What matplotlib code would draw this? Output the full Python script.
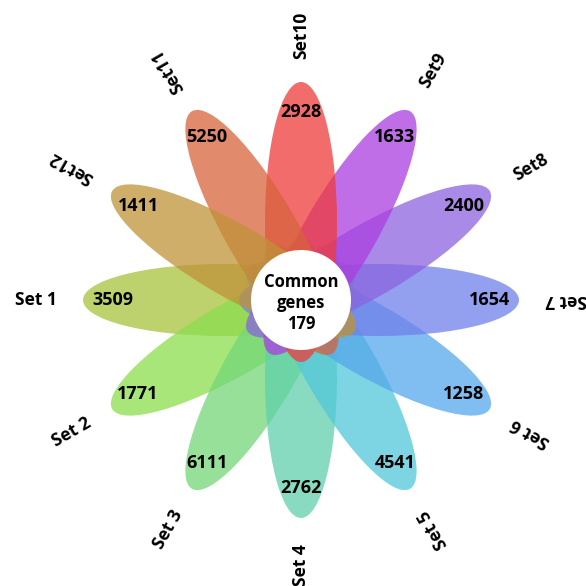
import numpy as np
import matplotlib.pyplot as plt
from matplotlib.patches import Ellipse, Circle

plt.rcParams['font.family'] = ['Open Sans', 'DejaVu Sans']

sets = ["Set 1", "Set 2", "Set 3", "Set 4", "Set 5", "Set 6",
        "Set 7", "Set8", "Set9", "Set10", "Set11", "Set12"]
counts = [3509, 1771, 6111, 2762, 4541, 1258,
          1654, 2400, 1633, 2928, 5250, 1411]
common = 179
colors = ["#a7c43c", "#8bde4e", "#73d678", "#60d0ab", "#52c8da", "#56a7eb",
          "#6f80ea", "#8c63e0", "#ab3ee0", "#f03b3b", "#d8633b", "#bf9338"]

# flower geometry, in pixel units with y pointing down
cx, cy = 301, 300
a, b = 140, 36        # petal half-length / half-width
off = 78              # petal centre distance from flower centre
r_num = 188
r_lab = 265
r_core = 50

fig = plt.figure(figsize=(5.86, 5.86), dpi=100)
ax = fig.add_axes([0, 0, 1, 1])
ax.set_xlim(0, 586)
ax.set_ylim(586, 0)
ax.set_aspect("equal")
ax.axis("off")

for i, (name, n, col) in enumerate(zip(sets, counts, colors)):
    ang = np.deg2rad(180 + 30 * i)
    dx, dy = np.cos(ang), -np.sin(ang)
    ax.add_patch(Ellipse((cx + off * dx, cy + off * dy), 2 * a, 2 * b,
                         angle=-np.rad2deg(ang), facecolor=col,
                         edgecolor="none", alpha=0.75))
    ax.text(cx + r_num * dx, cy + r_num * dy, str(n), ha="center",
            va="center", fontsize=13, fontweight="bold", zorder=5)
    rot = 30 * i if i <= 6 else 30 * i - 180
    ax.text(cx + r_lab * dx, cy + r_lab * dy, name, ha="center",
            va="center", rotation=rot, rotation_mode="anchor",
            fontsize=12.5, fontweight="bold", zorder=5)

ax.add_patch(Circle((cx, cy), r_core, facecolor="white", edgecolor="none",
                    zorder=4))
ax.text(cx, cy + 3, f"Common\ngenes\n{common}", ha="center", va="center",
        fontsize=12, fontweight="bold", linespacing=1.2, zorder=5)

fig.savefig("out.png", dpi=100, facecolor="white")
